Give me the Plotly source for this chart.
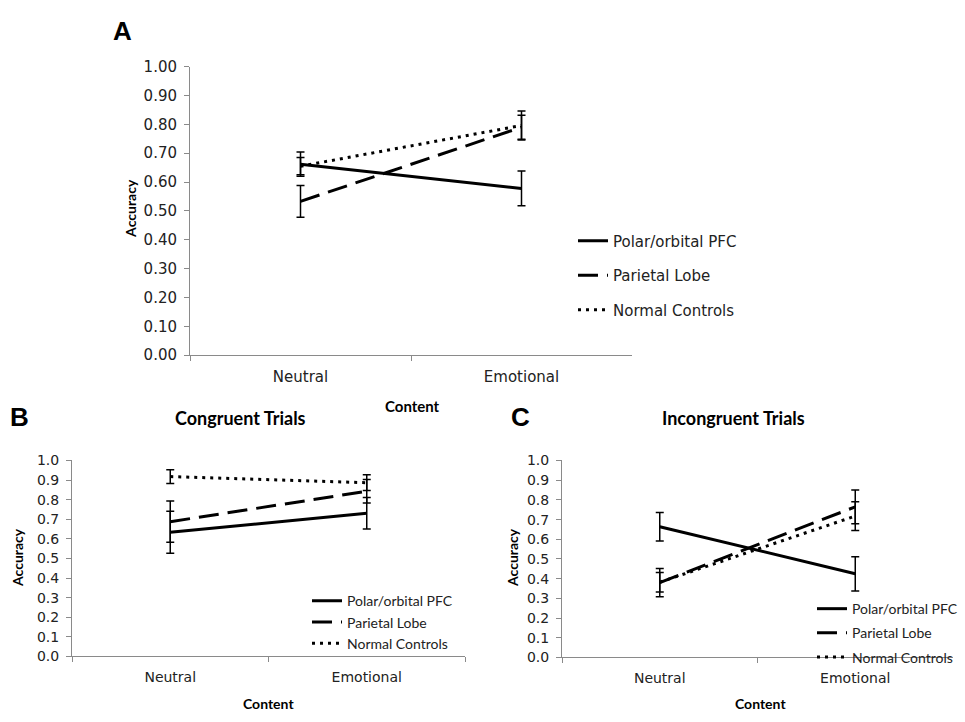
import plotly.graph_objects as go

# ---------------- data ----------------
categories = ["Neutral", "Emotional"]
series_names = ["Polar/orbital PFC", "Parietal Lobe", "Normal Controls"]

# Panel A (overall)
polar_A = [0.662, 0.578]
polar_A_err = [0.042, 0.060]
parietal_A = [0.533, 0.790]
parietal_A_err = [0.055, 0.042]
controls_A = [0.655, 0.796]
controls_A_err = [0.030, 0.050]

# Panel B (congruent trials)
polar_B = [0.634, 0.731]
polar_B_err = [0.107, 0.080]
parietal_B = [0.688, 0.843]
parietal_B_err = [0.105, 0.060]
controls_B = [0.918, 0.887]
controls_B_err = [0.035, 0.040]

# Panel C (incongruent trials)
polar_C = [0.664, 0.425]
polar_C_err = [0.072, 0.087]
parietal_C = [0.380, 0.765]
parietal_C_err = [0.072, 0.086]
controls_C = [0.382, 0.718]
controls_C_err = [0.050, 0.073]

W, H = 965, 722


def px(x):
    return x / W


def py(y):
    return 1 - y / H


dashes = ["solid", "20px,9px", "3px,5px"]

fig = go.Figure()

panels = [
    ("x", "y", "legend", [polar_A, parietal_A, controls_A],
     [polar_A_err, parietal_A_err, controls_A_err]),
    ("x2", "y2", "legend2", [polar_B, parietal_B, controls_B],
     [polar_B_err, parietal_B_err, controls_B_err]),
    ("x3", "y3", "legend3", [polar_C, parietal_C, controls_C],
     [polar_C_err, parietal_C_err, controls_C_err]),
]

for pi, (xa, ya, lg, vals, errs) in enumerate(panels):
    for si in range(3):
        fig.add_trace(go.Scatter(
            x=categories, y=vals[si], xaxis=xa, yaxis=ya,
            mode="lines", name=series_names[si],
            legend=lg, legendgroup=f"{lg}_{si}",
            line=dict(color="black", width=3, dash=dashes[si]),
            error_y=dict(type="data", array=errs[si], color="black",
                         thickness=1.5, width=4),
            showlegend=True,
        ))

axis_gray = "#8a8a8a"


def tfont(size):
    return dict(family="DejaVu Sans", size=size, color="#222")


def xaxis(domain, anchor, size):
    return dict(domain=domain, anchor=anchor, type="category",
                range=[-0.5, 1.5], showline=True, linecolor=axis_gray,
                linewidth=1, ticks="outside", tickson="boundaries",
                ticklen=5, tickcolor=axis_gray, showgrid=False,
                zeroline=False, tickfont=tfont(size), ticklabelstandoff=8)


def yaxis(domain, anchor, fmt, size):
    return dict(domain=domain, anchor=anchor, range=[0, 1.0005],
                dtick=0.1, tick0=0, tickformat=fmt, showline=True,
                linecolor=axis_gray, linewidth=1, ticks="outside",
                ticklen=5, tickcolor=axis_gray, showgrid=False,
                zeroline=False, tickfont=tfont(size), ticklabelstandoff=4)


fig.update_layout(
    width=W, height=H,
    margin=dict(l=0, r=0, t=0, b=0),
    paper_bgcolor="white", plot_bgcolor="white",
    xaxis=xaxis([px(190), px(632)], "y", 15),
    yaxis=yaxis([py(355), py(59)], "x", ".2f", 15),
    xaxis2=xaxis([px(72), px(465)], "y2", 14),
    yaxis2=yaxis([py(664), py(463)], "x2", ".1f", 14),
    xaxis3=xaxis([px(562), px(953)], "y3", 14),
    yaxis3=yaxis([py(665), py(463)], "x3", ".1f", 14),
    legend=dict(x=px(573), y=py(221), xanchor="left", yanchor="top",
                bgcolor="rgba(0,0,0,0)", tracegroupgap=12,
                font=dict(family="DejaVu Sans", size=15, color="#222")),
    legend2=dict(x=px(307), y=py(591), xanchor="left", yanchor="top",
                 bgcolor="rgba(0,0,0,0)", tracegroupgap=0,
                 font=dict(family="Lato", size=14, color="#222")),
    legend3=dict(x=px(812), y=py(599), xanchor="left", yanchor="top",
                 bgcolor="rgba(0,0,0,0)", tracegroupgap=3,
                 font=dict(family="Lato", size=14, color="#222")),
)

bold_font = "Lato"
annots = [
    ("A", 122, 23, 26, "Liberation Sans", 0),
    ("B", 19, 418, 26, "Liberation Sans", 0),
    ("C", 520, 418, 26, "Liberation Sans", 0),
    ("Congruent Trials", 240, 419, 18, bold_font, 0),
    ("Incongruent Trials", 733, 419, 18, bold_font, 0),
    ("Content", 412, 407, 15, bold_font, 0),
    ("Content", 268, 712, 14, bold_font, 0),
    ("Content", 760, 712, 14, bold_font, 0),
    ("Accuracy", 131, 205, 14, bold_font, -90),
    ("Accuracy", 18, 563, 14, bold_font, -90),
    ("Accuracy", 513, 563, 14, bold_font, -90),
]
for text, x, y, size, fam, ang in annots:
    fig.add_annotation(text=f"<b>{text}</b>", x=px(x), y=py(y),
                       xref="paper", yref="paper", showarrow=False,
                       xanchor="center", yanchor="middle", textangle=ang,
                       font=dict(family=fam, size=size, color="black"))

fig.write_html(
    "out.html",
    config={"displayModeBar": False},
    post_script="document.body.style.margin='0px';"
                "document.body.style.overflow='hidden';",
)
